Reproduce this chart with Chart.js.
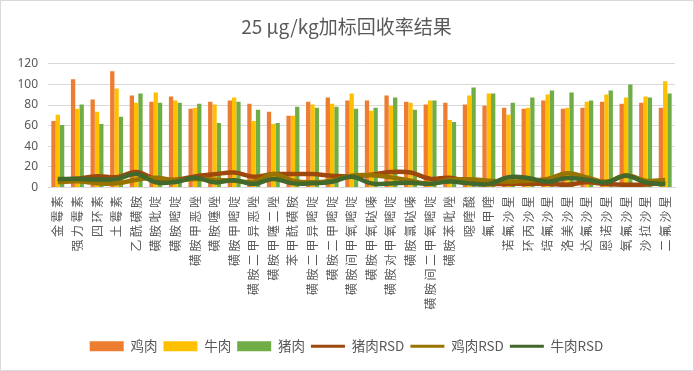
<!DOCTYPE html>
<html>
<head>
<meta charset="utf-8">
<script src="https://cdn.jsdelivr.net/npm/chart.js@4/dist/chart.umd.min.js"></script>
<style>
  html, body { margin: 0; padding: 0; background: #fff; }
  #wrap { width: 694px; height: 371px; box-sizing: border-box; border: 1px solid #d9d9d9; }
  canvas { display: block; }
</style>
</head>
<body>
<div id="wrap"><canvas id="chart" width="692" height="369"></canvas></div>
<script>
const categories = ['金霉素', '强力霉素', '四环素', '土霉素', '乙酰磺胺', '磺胺吡啶', '磺胺嘧啶', '磺胺甲恶唑',
  '磺胺噻唑', '磺胺甲嘧啶', '磺胺二甲异恶唑', '磺胺甲噻二唑', '苯甲酰磺胺', '磺胺二甲异嘧啶', '磺胺二甲嘧啶',
  '磺胺间甲氧嘧啶', '磺胺甲氧哒嗪', '磺胺对甲氧嘧啶', '磺胺氯哒嗪', '磺胺间二甲氧嘧啶', '磺胺苯吡唑', '噁喹酸',
  '氟甲喹', '诺氟沙星', '环丙沙星', '培氟沙星', '洛美沙星', '达氟沙星', '恩诺沙星', '氧氟沙星', '沙拉沙星', '二氟沙星'];

const chicken = [64.6, 105, 85.3, 112.8, 89.2, 83.3, 88.2, 76.4, 83.3, 84.3, 81.3, 73.5, 69.5, 83.3, 87.2, 84.3,
  84.3, 89.2, 83.3, 80.4, 82.3, 80.4, 79.4, 77.4, 76.4, 84.3, 76.4, 77.4, 83.3, 81.3, 82.3, 77.4];
const beef = [70.5, 76.4, 73.5, 96.1, 82.3, 92.2, 84.3, 77.4, 80.4, 87.2, 64.6, 61.7, 69.5, 80.4, 81.3, 91.2,
  74.5, 79.4, 82.3, 84.3, 65.6, 89.2, 91.2, 70.5, 77.4, 90.2, 77.4, 83.3, 90.2, 87.2, 88.2, 103];
const pork = [60.7, 80.4, 61.7, 68.6, 91.2, 82.3, 82.3, 81.3, 62.6, 83.3, 75.4, 62.6, 78.4, 77.4, 78.4, 76.4,
  77.4, 87.2, 75.4, 84.3, 63.6, 97.1, 91.2, 82.3, 87.2, 94.1, 92.2, 84.3, 94.1, 100, 87.2, 91.2];

const porkRsd = [6, 8.5, 11, 10, 15, 8.2, 7.5, 10.8, 12.8, 14.5, 10.5, 13, 13, 13, 11.5, 10.8,
  12.5, 15, 14.5, 8.5, 9.5, 5.5, 3.5, 3.5, 3.6, 3.6, 2.6, 5, 3.3, 2.6, 3, 4.3];
const chickenRsd = [5, 6, 4.2, 4, 7.5, 9.5, 7, 8.3, 7.5, 6.6, 5.6, 13, 6.6, 5, 6.9, 11.5,
  12, 9.8, 6.5, 3.5, 7.5, 8, 6.6, 5.6, 6.6, 8.2, 13.8, 9.8, 5.6, 12, 6.6, 7.2];
const beefRsd = [8.2, 8.4, 7.8, 8.2, 13, 5, 5.4, 9.5, 5, 7, 3.5, 8.2, 4, 4, 5.6, 10.5,
  4, 4, 4.5, 3.6, 5.8, 4, 3.3, 10, 9.2, 5.6, 9.2, 7.5, 5, 11.5, 5, 3.3];

const yTicks = [0, 20, 40, 60, 80, 100, 120];

const textColor = '#595959';
const gridColor = '#d9d9d9';

function barSet(label, data, color) {
  return { type: 'bar', label, data, backgroundColor: color, borderWidth: 0, order: 10, pointStyle: 'rect' };
}
function lineSet(label, data, color, order) {
  return {
    type: 'line', label, data, borderColor: color, backgroundColor: color, borderWidth: 4.5,
    pointRadius: 0, tension: 0.4, fill: false, order, pointStyle: 'line'
  };
}

const chart = new Chart(document.getElementById('chart'), {
  type: 'bar',
  data: {
    labels: categories,
    datasets: [
      barSet('鸡肉', chicken, '#ED7D31'),
      barSet('牛肉', beef, '#FFC000'),
      barSet('猪肉', pork, '#70AD47'),
      lineSet('猪肉RSD', porkRsd, '#9E480E', 3),
      lineSet('鸡肉RSD', chickenRsd, '#997300', 2),
      lineSet('牛肉RSD', beefRsd, '#43682B', 1),
    ],
  },
  options: {
    responsive: false,
    animation: false,
    layout: { padding: { left: 17, right: 18, top: 0, bottom: 7 } },
    datasets: {
      bar: { categoryPercentage: 0.66, barPercentage: 1 },
    },
    plugins: {
      title: {
        display: true,
        text: '25 μg/kg加标回收率结果',
        color: textColor,
        font: { family: '"Noto Sans CJK SC", "Noto Sans"', size: 19, weight: 'normal', lineHeight: 1.2 },
        padding: { top: 14, bottom: 26 },
      },
      legend: {
        position: 'bottom',
        labels: {
          color: textColor,
          font: { family: '"Noto Sans CJK SC", "Noto Sans"', size: 13.5 },
          usePointStyle: true,
          pointStyleWidth: 34,
          boxHeight: 10,
          padding: 6,
          sort: (a, b) => a.datasetIndex - b.datasetIndex,
          // thinner line samples than the plotted lines
          generateLabels: (c) => Chart.defaults.plugins.legend.labels.generateLabels(c)
            .map(item => (item.pointStyle === 'line' ? { ...item, lineWidth: 3 } : item)),
        },
      },
      tooltip: { enabled: false },
    },
    scales: {
      x: {
        grid: { display: false, drawTicks: false },
        border: { display: true, color: gridColor },
        ticks: {
          autoSkip: false, minRotation: 90, maxRotation: 90, padding: 6,
          color: textColor,
          font: { family: '"Noto Sans CJK SC"', size: 12 },
        },
        afterFit: (scale) => { scale.height = 146; },
      },
      y: {
        min: 0,
        max: 120,
        afterBuildTicks: (scale) => { scale.ticks = yTicks.map(v => ({ value: v })); },
        grid: { color: gridColor, drawTicks: false },
        border: { display: false },
        ticks: {
          padding: 10, color: textColor,
          font: { family: '"Noto Sans", sans-serif', size: 12 },
        },
        afterFit: (scale) => { scale.width = 30; },
      },
    },
  },
});

// the category labels in the original are spaced out a little
const xScale = chart.scales.x;
const drawLabels = xScale.drawLabels;
xScale.drawLabels = function (area) {
  this.ctx.save();
  this.ctx.letterSpacing = '2.5px';
  drawLabels.call(this, area);
  this.ctx.restore();
};
chart.draw();
</script>
</body>
</html>
